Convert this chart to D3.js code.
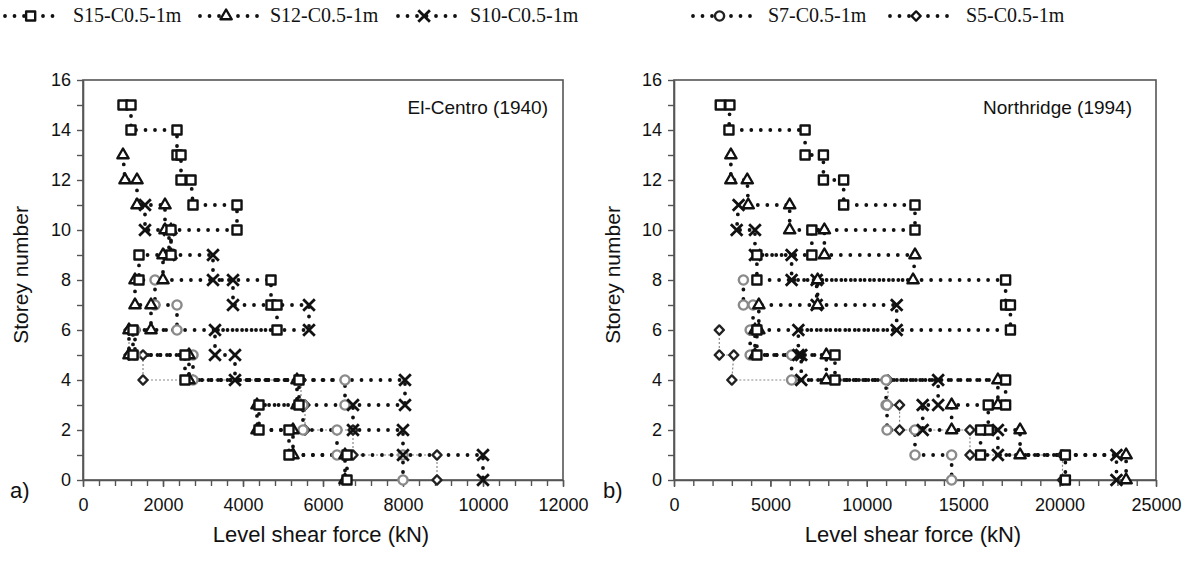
<!DOCTYPE html>
<html><head><meta charset="utf-8">
<script src="https://cdn.jsdelivr.net/npm/d3@7"></script>
<style>body{margin:0;background:#fff}</style>
</head><body><svg id="c" width="1197" height="563"></svg>
<script>
// ---------- DATA ----------
const seriesNames = ["S15-C0.5-1m","S12-C0.5-1m","S10-C0.5-1m","S7-C0.5-1m","S5-C0.5-1m"];
const panelTitles = ["El-Centro (1940)","Northridge (1994)"];
const panelLetters = ["a)","b)"];
const xTicksA = [0,2000,4000,6000,8000,10000,12000];
const xTicksB = [0,5000,10000,15000,20000,25000];
const yTickLabels = [0,2,4,6,8,10,12,14,16];

const storeysS15 = [15,15,14,14,13,13,12,12,11,11,10,10,9,9,8,8,7,7,6,6,5,5,4,4,3,3,2,2,1,1,0];
const storeysS12 = [13,12,12,11,11,10,10,9,9,8,8,7,7,6,6,5,5,4,4,3,3,2,2,1,1,0];
const storeysS10 = [11,10,10,9,9,8,8,7,7,6,6,5,5,4,4,3,3,2,2,1,1,0];
const storeysS7  = [8,7,7,6,6,5,5,4,4,3,3,2,2,1,1,0];
const storeysS5  = [6,5,5,4,4,3,3,2,2,1,1,0];

// El-Centro (kN)
const elS15 = [1000,1200,1200,2350,2350,2450,2450,2700,2750,3850,3850,2200,2200,1400,1400,4700,4700,4850,4850,1250,1250,2550,2550,5400,5400,4400,4400,5150,5150,6600,6600];
const elS12 = [1000,1050,1350,1350,2050,2050,2200,2200,2000,2000,1300,1300,1700,1700,1150,1150,2650,2650,5350,5350,4350,4350,5250,5250,6550,6550];
const elS10 = [1550,1550,2150,2150,3250,3250,3750,3750,5650,5650,3300,3300,3800,3800,8050,8050,6750,6750,8000,8000,10000,10000];
const elS7  = [1800,1800,2350,2350,1300,1300,2750,2750,6550,6550,5500,5500,6350,6350,8000,8000];
const elS5  = [1150,1150,1500,1500,5450,5450,5550,5550,6750,6750,8850,8850];

// Northridge (kN)
const nrS15 = [2400,2900,2850,6800,6800,7750,7750,8800,8800,12500,12500,7150,7150,4300,4300,17200,17200,17450,17450,4300,4300,8350,8350,17200,17200,16300,16300,15900,15900,20300,20300];
const nrS12 = [2950,2950,3800,3850,6000,6000,7800,7800,12500,12400,7450,7450,4400,4400,4200,4200,7900,7900,16800,16800,14400,14400,17950,17950,23450,23450];
const nrS10 = [3350,3250,4200,4200,6100,6100,7400,7400,11550,11550,6450,6450,6600,6600,13700,13700,12900,12900,16800,16800,22950,22950];
const nrS7  = [3600,3600,4100,4100,3950,3950,6100,6100,11000,11000,11050,11050,12500,12500,14400,14400];
const nrS5  = [2350,2350,3100,3000,11100,11100,11700,11700,15350,15350,20150,20150];

// ---------- DRAW ----------
const svg = d3.select("#c");
const sansFont = "'Liberation Sans', Arial, sans-serif";
const serifFont = "'Liberation Serif', 'Times New Roman', serif";

const styles = [
  {sym:"square", stroke:"#111", line:"dots"},
  {sym:"triangle", stroke:"#111", line:"dots"},
  {sym:"x", stroke:"#111", line:"dots"},
  {sym:"circle", stroke:"#8a8a8a", line:"dots"},
  {sym:"diamond", stroke:"#222", line:"thin"}
];

function drawMarker(g, type, cx, cy, stroke){
  let p;
  if(type==="square") p = d3.symbol(d3.symbolSquare, 82)();
  else if(type==="triangle") p = d3.symbol(d3.symbolTriangle, 55)();
  else if(type==="x") p = d3.symbol(d3.symbolX, 90)();
  else if(type==="circle") p = d3.symbol(d3.symbolCircle, 66)();
  else p = d3.symbol(d3.symbolSquare, 42)();
  return g.append("path").attr("d", p)
    .attr("transform", `translate(${cx},${cy})` + (type==="diamond" ? " rotate(45)" : ""))
    .attr("fill", type==="x" ? "none" : "#fff")
    .attr("stroke", stroke)
    .attr("stroke-width", type==="x" ? 2.8 : 2.4)
    .attr("stroke-linejoin","round");
}

function applyLine(sel, kind){
  if(kind==="dots"){
    sel.attr("stroke","#111").attr("stroke-width",3.8)
      .attr("stroke-dasharray","0,9.5").attr("stroke-linecap","round");
  } else {
    sel.attr("stroke","#888").attr("stroke-width",1.2)
      .attr("stroke-dasharray","2,2");
  }
  return sel;
}

const yScale = d3.scaleLinear([0,16],[480,80]);

const panels = [
  {x: d3.scaleLinear([0,12000],[83,563]), major: xTicksA, minorStep:400, max:12000,
   data:[elS15,elS12,elS10,elS7,elS5], ylabX:28, letterX:10, titleEnd:548},
  {x: d3.scaleLinear([0,25000],[674,1156]), major: xTicksB, minorStep:1000, max:25000,
   data:[nrS15,nrS12,nrS10,nrS7,nrS5], ylabX:620, letterX:603, titleEnd:1132}
];
const storeys = [storeysS15,storeysS12,storeysS10,storeysS7,storeysS5];

panels.forEach((P,pi)=>{
  const g = svg.append("g");
  const x = P.x;
  g.append("rect").attr("x",x.range()[0]).attr("y",yScale(16))
    .attr("width",x.range()[1]-x.range()[0]).attr("height",yScale(0)-yScale(16))
    .attr("fill","none").attr("stroke","#555").attr("stroke-width",1.6);
  const minor = d3.range(0, P.max+1, P.minorStep);
  const axMinor = g.append("g").attr("transform",`translate(0,${yScale(0)})`)
    .call(d3.axisBottom(x).tickValues(minor).tickFormat("").tickSize(6).tickSizeOuter(0));
  axMinor.select(".domain").attr("stroke","#555").attr("stroke-width",1.6);
  axMinor.selectAll(".tick line").attr("stroke","#555").attr("stroke-width",1.4);
  const axMajor = g.append("g").attr("transform",`translate(0,${yScale(0)})`)
    .call(d3.axisBottom(x).tickValues(P.major).tickFormat(d3.format("d")).tickSize(7).tickSizeOuter(0).tickPadding(11));
  axMajor.select(".domain").remove();
  axMajor.selectAll(".tick line").attr("stroke","#555").attr("stroke-width",1.4);
  axMajor.selectAll("text").attr("font-family",sansFont).attr("font-size",18).attr("fill","#111");
  const ay = g.append("g").attr("transform",`translate(${x.range()[0]},0)`)
    .call(d3.axisLeft(yScale).tickValues(d3.range(0,17,1))
      .tickFormat(d => yTickLabels.includes(d) ? d : "").tickSize(6).tickSizeOuter(0).tickPadding(6));
  ay.select(".domain").attr("stroke","#555").attr("stroke-width",1.6);
  ay.selectAll(".tick line").attr("stroke","#555").attr("stroke-width",1.4);
  ay.selectAll("text").attr("font-family",sansFont).attr("font-size",18).attr("fill","#111");
  g.append("text").attr("x",(x.range()[0]+x.range()[1])/2 - 2).attr("y",542)
    .attr("text-anchor","middle").attr("font-family",sansFont).attr("font-size",22).attr("fill","#111")
    .text("Level shear force (kN)");
  g.append("text").attr("transform",`translate(${P.ylabX},${yScale(8.2)}) rotate(-90)`)
    .attr("text-anchor","middle").attr("font-family",sansFont).attr("font-size",21).attr("fill","#111")
    .text("Storey number");
  g.append("text").attr("x",P.letterX).attr("y",498).attr("font-family",sansFont)
    .attr("font-size",22).attr("fill","#111").text(panelLetters[pi]);
  g.append("text").attr("x",P.titleEnd).attr("y",114).attr("text-anchor","end")
    .attr("font-family",sansFont).attr("font-size",19).attr("fill","#111").text(panelTitles[pi]);

  const order = [4,3,2,1,0];
  const line = d3.line();
  order.forEach(si=>{
    const pts = P.data[si].map((v,i)=>[x(v), yScale(storeys[si][i])]);
    applyLine(g.append("path").attr("d",line(pts)).attr("fill","none"), styles[si].line);
  });
  order.forEach(si=>{
    P.data[si].forEach((v,i)=>{
      drawMarker(g, styles[si].sym, x(v), yScale(storeys[si][i]), styles[si].stroke);
    });
  });
});

// legend
const legendX = [[5,62,73],[200,258,270],[398,456,470],[693,752,768],[890,948,966]];
const lg = svg.append("g");
seriesNames.forEach((name,i)=>{
  const [a,b,t] = legendX[i];
  const ly = 16;
  applyLine(lg.append("line").attr("x1",a).attr("x2",b).attr("y1",ly).attr("y2",ly), "dots");
  drawMarker(lg, styles[i].sym, a+ (b-a)*0.45, ly, i===3 ? "#222" : "#111");
  lg.append("text").attr("x",t).attr("y",ly+6).attr("font-family",serifFont)
    .attr("font-size",20).attr("fill","#111").text(name);
});
</script></body></html>
